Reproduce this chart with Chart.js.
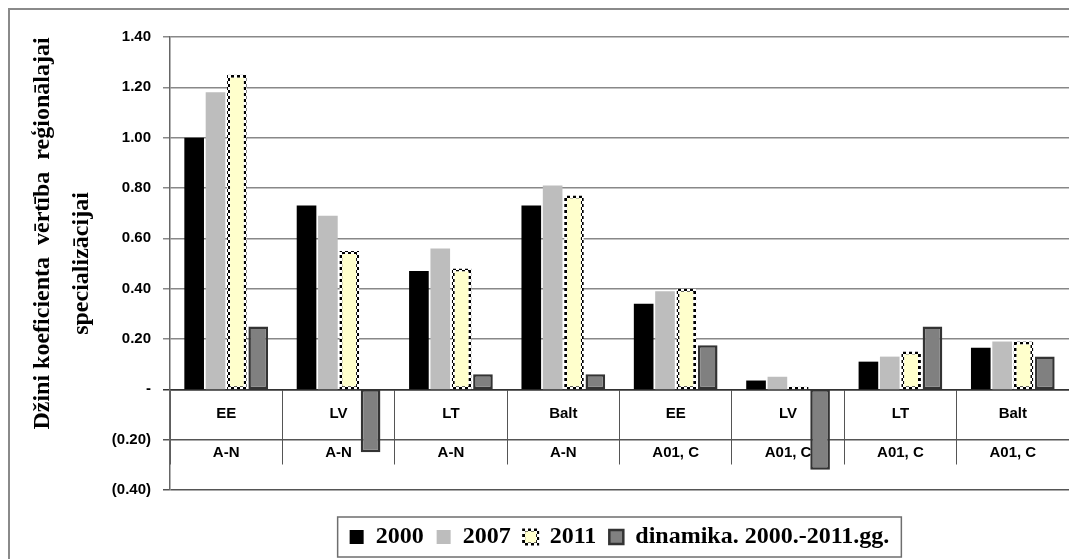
<!DOCTYPE html>
<html>
<head>
<meta charset="utf-8">
<script src="https://cdn.jsdelivr.net/npm/chart.js@4.4.0/dist/chart.umd.min.js"></script>
<style>
  html, body { margin: 0; padding: 0; background: #fff; overflow: hidden; }
  #wrap { position: relative; width: 1069px; height: 559px; }
  canvas { display: block; }
</style>
</head>
<body>
<div id="wrap"><canvas id="c" width="1069" height="559"></canvas></div>
<script>
// Regions and sector groups shown on the two-row category axis
const regions = ['EE', 'LV', 'LT', 'Balt', 'EE', 'LV', 'LT', 'Balt'];
const sectors = ['A-N', 'A-N', 'A-N', 'A-N', 'A01, C', 'A01, C', 'A01, C', 'A01, C'];

// Gini coefficient of regional specialisation, by year
const v2000 = [1.00, 0.73, 0.47, 0.73, 0.34, 0.035, 0.11, 0.165];
const v2007 = [1.18, 0.69, 0.56, 0.81, 0.39, 0.05, 0.13, 0.19];
const v2011 = [1.25, 0.55, 0.48, 0.77, 0.40, 0.01, 0.15, 0.19];
const dinamika = [0.25, -0.25, 0.06, 0.06, 0.175, -0.32, 0.25, 0.13];

const seriesNames = ['2000', '2007', '2011', 'dinamika. 2000.-2011.gg.'];
// the first title line is padded at its start so it sits a little higher on the axis
const yTitle = ['          Džini koeficienta  vērtība  reģionālajai', 'specializācijai'];
const yMin = -0.4, yMax = 1.4, yStep = 0.2;

// y tick text: zero as a dash, negatives in parentheses
function fmtTick(v) {
  if (Math.abs(v) < 1e-9) return '-';
  if (v < 0) return '(' + (-v).toFixed(2) + ')';
  return v.toFixed(2);
}

// black/white checker used for the dotted outline of the 2011 bars
function checkerPattern(cell) {
  const c = document.createElement('canvas');
  c.width = c.height = cell * 2;
  const g = c.getContext('2d');
  g.fillStyle = '#fff';
  g.fillRect(0, 0, cell * 2, cell * 2);
  g.fillStyle = '#000';
  g.fillRect(0, 0, cell, cell);
  g.fillRect(cell, cell, cell, cell);
  return g.createPattern(c, 'repeat');
}
const dotted = checkerPattern(3);

// outer frame and the box around the legend
const framePlugin = {
  id: 'frame',
  beforeDraw(chart) {
    const ctx = chart.ctx;
    ctx.save();
    ctx.fillStyle = '#fff';
    ctx.fillRect(0, 0, chart.width, chart.height);
    ctx.strokeStyle = '#8a8a8a';
    ctx.lineWidth = 2;
    ctx.strokeRect(9, 9, chart.width + 20, chart.height + 20);
    ctx.restore();
  },
  afterDraw(chart) {
    const boxes = chart.legend && chart.legend.legendHitBoxes;
    if (!boxes || !boxes.length) return;
    const first = boxes[0], last = boxes[boxes.length - 1];
    const left = first.left - 12;
    const right = last.left + last.width + 12;
    const cy = first.top + first.height / 2;
    const ctx = chart.ctx;
    ctx.save();
    ctx.strokeStyle = '#6e6e6e';
    ctx.lineWidth = 1.5;
    ctx.strokeRect(left, cy - 20, right - left, 40);
    ctx.restore();
  }
};

const gridColor = (ctx) => {
  const v = ctx.tick ? ctx.tick.value : null;
  if (v === null) return '#888';
  if (Math.abs(v) < 1e-9) return '#333';
  if (v < 0) return '#555';
  return '#888';
};

new Chart(document.getElementById('c'), {
  type: 'bar',
  data: {
    labels: regions.map((r, i) => [r, sectors[i]]),
    datasets: [
      { label: seriesNames[0], data: v2000, backgroundColor: '#000', borderWidth: 0 },
      { label: seriesNames[1], data: v2007, backgroundColor: '#bdbdbd', borderWidth: 0 },
      { label: seriesNames[2], data: v2011, backgroundColor: '#ffffcc', borderColor: dotted, borderWidth: 3, borderSkipped: false },
      { label: seriesNames[3], data: dinamika, backgroundColor: '#808080', borderColor: '#333', borderWidth: 2.5, borderSkipped: false }
    ]
  },
  options: {
    responsive: false,
    animation: false,
    devicePixelRatio: 1,
    layout: { padding: { top: 37, right: 0, bottom: 0, left: 0 } },
    datasets: { bar: { categoryPercentage: 0.76, barPercentage: 0.92 } },
    plugins: {
      tooltip: { enabled: false },
      legend: {
        position: 'bottom',
        fullSize: false,
        // an empty title keeps a gap between the plot and the legend row
        title: { display: true, text: ' ', font: { size: 1, lineHeight: '1px' }, padding: { top: 21, bottom: 0 } },
        labels: {
          color: '#000',
          boxWidth: 14,
          boxHeight: 14,
          padding: 13,
          font: { family: '"Liberation Serif", "Times New Roman", serif', size: 24, weight: 'bold' }
        }
      }
    },
    scales: {
      x: {
        position: { y: 0 },
        offset: true,
        grid: { drawOnChartArea: false, drawTicks: true, tickLength: 74, color: '#555', lineWidth: 1 },
        border: { display: true, color: '#333', width: 1.5 },
        ticks: {
          color: '#000',
          padding: -69,
          maxRotation: 0,
          autoSkip: false,
          font: { family: '"Liberation Sans", Arial, sans-serif', size: 15, weight: 'bold', lineHeight: '39px' }
        }
      },
      y: {
        min: yMin,
        max: yMax,
        ticks: {
          stepSize: yStep,
          color: '#000',
          padding: 12,
          callback: (v) => fmtTick(v),
          font: { family: '"Liberation Sans", Arial, sans-serif', size: 15, weight: 'bold' }
        },
        grid: { color: gridColor, lineWidth: 1.5, tickLength: 7 },
        border: { display: true, color: '#666', width: 1.5 },
        title: {
          display: true,
          text: yTitle,
          color: '#000',
          padding: { top: 23.5, bottom: 0 },
          font: { family: '"Liberation Serif", "Times New Roman", serif', size: 24, weight: 'bold', lineHeight: '39px' }
        },
        afterFit: (s) => { s.width = 170; }
      }
    }
  },
  plugins: [framePlugin]
});
</script>
</body>
</html>
